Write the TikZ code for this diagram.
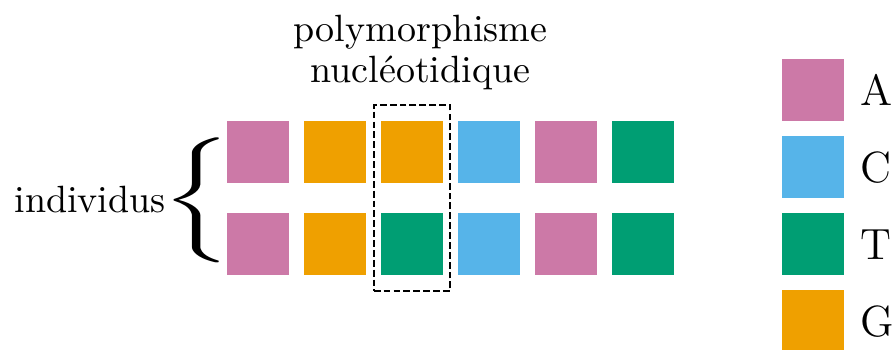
\documentclass[tikz,border=0pt]{standalone}
\usepackage{graphicx}
\definecolor{cA}{HTML}{CC79A7}
\definecolor{cC}{HTML}{56B4E9}
\definecolor{cT}{HTML}{009E73}
\definecolor{cG}{HTML}{EFA000}
\begin{document}
\begin{tikzpicture}[x=0.26316pt,y=-0.26316pt,
  sq/.style={minimum size=16.32pt, inner sep=0pt, outer sep=0pt},
  nA/.style={sq,fill=cA}, nC/.style={sq,fill=cC},
  nT/.style={sq,fill=cT}, nG/.style={sq,fill=cG},
  lbl/.style={inner sep=0pt, font=\fontsize{10}{12}\selectfont},
  leg/.style={inner sep=0pt, font=\fontsize{11.5}{13.8}\selectfont, anchor=base west},
  snpbox/.style={draw, line width=0.55pt, dash pattern=on 1.8pt off 0.8pt,
    minimum width=20.08pt, minimum height=49.03pt, inner sep=0pt}]
\useasboundingbox (0,0) rectangle (894,349);
% top row
\node[nA] (t1) at (258,152) {};
\node[nG] (t2) at (335,152) {};
\node[nG] (t3) at (412,152) {};
\node[nC] (t4) at (489,152) {};
\node[nA] (t5) at (566,152) {};
\node[nT] (t6) at (643,152) {};
% bottom row
\node[nA] (b1) at (258,244) {};
\node[nG] (b2) at (335,244) {};
\node[nT] (b3) at (412,244) {};
\node[nC] (b4) at (489,244) {};
\node[nA] (b5) at (566,244) {};
\node[nT] (b6) at (643,244) {};
% snp box
\node[snpbox] (snp) at (411.9,197.9) {};
% labels
\node[lbl, anchor=base] (poly1) at (420.5,41) {polymorphisme};
\node[lbl, anchor=base] (poly2) at (420.5,82.3) {nucléotidique};
\node[lbl, anchor=base east] (ind) at (166.5,212.7) {individus};
\node[inner sep=0pt] (brace) at (196.5,200.5)
  {\resizebox*{18.5pt}{32.9pt}{$\Bigg\{$}};
% legend
\node[nA] (lA) at (813,90) {};
\node[nC] (lC) at (813,167) {};
\node[nT] (lT) at (813,244) {};
\node[nG] (lG) at (813,321) {};
\node[leg] (tA) at (860,105) {A};
\node[leg] (tC) at (860,182) {C};
\node[leg] (tT) at (860,259) {T};
\node[leg] (tG) at (860,336) {G};
\end{tikzpicture}
\end{document}
